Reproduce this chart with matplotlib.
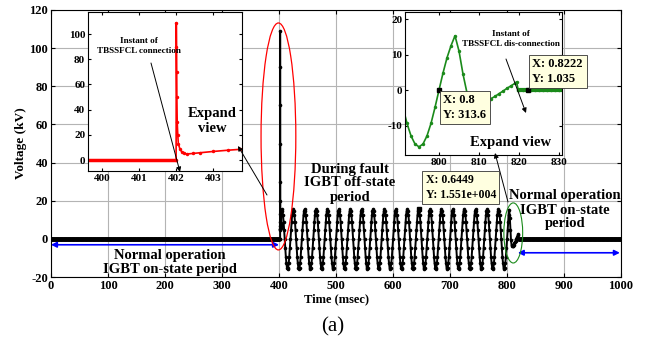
import matplotlib.pyplot as plt
import numpy as np
from matplotlib.patches import Ellipse, FancyArrowPatch

plt.rcParams['font.family'] = ['Liberation Serif', 'DejaVu Serif']
plt.rcParams['font.weight'] = 'bold'
plt.rcParams['axes.labelweight'] = 'bold'
plt.rcParams['axes.unicode_minus'] = False

# one 50 Hz cycle of the fault-period voltage, 1 ms samples (kV)
cycle_kv = [0, 4.8, 9.1, 12.5, 14.7, 15.5, 14.7, 12.5, 9.1, 4.8,
            0, -4.9, -9.4, -12.9, -15.2, -16.0, -15.2, -12.9, -9.4, -4.9]

# spike at the TBSSFCL connection instant
t_spike = [402.0, 402.005, 402.01, 402.015, 402.02, 402.03, 402.045, 402.06,
           402.1, 402.15, 402.22, 402.29, 402.45, 402.65, 403.0, 403.4, 403.73]
v_spike = [0, 109, 90, 70, 50, 30, 20, 13,
           9, 6.6, 5.3, 4.8, 5.2, 5.8, 6.8, 7.8, 8.5]

# transient at the dis-connection instant
t_end = [804, 805, 806, 807, 808, 809, 810, 811, 812, 813, 814, 815,
         816, 817, 818, 819, 819.4, 819.8]
v_end = [15.3, 11.0, 4.5, -0.8, -3.2, -4.0, -3.9, -3.5, -3.0, -2.4, -1.8, -1.0,
         -0.3, 0.5, 1.2, 1.9, 2.3, 0.0]

t_pre = np.arange(0, 402, 1.0)
v_pre = np.zeros(len(t_pre))
t_fault = np.arange(404, 804, 1.0)
v_fault = np.tile(cycle_kv, 21)[4:404]
t_post = np.arange(820, 1001, 1.0)
v_post = np.zeros(len(t_post))

t_all = np.concatenate([t_pre, t_spike, t_fault, t_end, t_post])
v_all = np.concatenate([v_pre, v_spike, v_fault, v_end, v_post])

# denser samples for the left zoom
t_zoom_pre = np.arange(399.6, 402.0, 0.02)
v_zoom_pre = np.zeros(len(t_zoom_pre))

W, H = 645, 341


def fx(x):
    return x / W


def fy(y):
    return 1 - y / H


def box(l, t, r, b):
    return [fx(l), fy(b), (r - l) / W, (b - t) / H]


fig = plt.figure(figsize=(6.45, 3.41), dpi=100)

ax = fig.add_axes(box(51, 10, 621, 277))
ax.plot(t_all, v_all, '-', color='k', lw=1.4, marker='o', ms=2.6, mew=0)
ax.plot(t_pre, v_pre, '-', color='k', lw=3.5, solid_capstyle='butt')
ax.plot(t_post, v_post, '-', color='k', lw=3.5, solid_capstyle='butt')
ax.set_xlim(0, 1000)
ax.set_ylim(-20, 120)
ax.set_xticks(np.arange(0, 1001, 100))
ax.set_yticks(np.arange(-20, 121, 20))
ax.grid(True, color='#b4b4b4', lw=0.8)
ax.tick_params(direction='in', top=True, right=True, labelsize=9, length=3, pad=2)
ax.set_xlabel('Time (msec)', fontsize=9, labelpad=1)
ax.set_ylabel('Voltage (kV)', fontsize=9.5, labelpad=2)
ax.add_patch(Ellipse((399, 53.7), 61, 119, fill=False, ec='red', lw=0.9, zorder=5))
ax.add_patch(Ellipse((811, 3.1), 33, 31.5, fill=False, ec='#1a8a1a', lw=0.8, zorder=5))
ax.annotate('', xy=(0, -3.1), xytext=(400, -3.1),
            arrowprops=dict(arrowstyle='<|-|>', color='blue', lw=1.2, mutation_scale=8,
                            shrinkA=0, shrinkB=0))
ax.annotate('', xy=(819, -7.3), xytext=(998, -7.3),
            arrowprops=dict(arrowstyle='<|-|>', color='blue', lw=1.2, mutation_scale=8,
                            shrinkA=0, shrinkB=0))
ax.plot(644.9, 15.51, 's', color='k', ms=3.5, zorder=6)

# left zoom: connection spike
ax1 = fig.add_axes(box(88, 12, 242, 171))
ax1.plot(t_zoom_pre, v_zoom_pre, '-', color='red', lw=2.5, marker='o', ms=2, mew=0)
ax1.plot(t_spike, v_spike, '-', color='red', lw=1.2, marker='o', ms=2.5, mew=0)
ax1.set_xlim(399.62, 403.78)
ax1.set_ylim(-8.7, 117.5)
ax1.set_xticks([400, 401, 402, 403])
ax1.set_yticks(np.arange(0, 101, 20))
ax1.tick_params(direction='in', top=True, right=True, labelsize=8, length=2.5, pad=2)

# right zoom: dis-connection transient
ax2 = fig.add_axes(box(405, 12, 562, 155))
ax2.plot(t_all, v_all, '-', color='#1a8a1a', lw=1.2, marker='o', ms=2.5, mew=0)
ax2.plot(t_post, v_post, '-', color='#1a8a1a', lw=3)
ax2.set_xlim(791.5, 830.75)
ax2.set_ylim(-18.3, 22)
ax2.set_xticks([800, 810, 820, 830])
ax2.set_yticks([-10, 0, 10, 20])
ax2.tick_params(direction='in', top=True, right=True, labelsize=8, length=2.5, pad=2)
ax2.plot(800, 0, 's', color='k', ms=3.5, zorder=6)
ax2.plot(822.2, 0, 's', color='k', ms=3.5, zorder=6)

# labels
fig.text(fx(170), fy(262), 'Normal operation\nIGBT on-state period', ha='center', va='center',
         fontsize=10.5, linespacing=1.1)
fig.text(fx(350), fy(183), 'During fault\nIGBT off-state\nperiod', ha='center', va='center',
         fontsize=10.5, linespacing=1.1)
fig.text(fx(565), fy(210), 'Normal operation\nIGBT on-state\nperiod', ha='center', va='center',
         fontsize=10.5, linespacing=1.1)
fig.text(fx(212), fy(121), 'Expand\nview', ha='center', va='center', fontsize=10.5, linespacing=1.1)
fig.text(fx(511), fy(142), 'Expand view', ha='center', va='center', fontsize=10.5)
fig.text(fx(139), fy(46), 'Instant of\nTBSSFCL connection', ha='center', va='center',
         fontsize=6.6, linespacing=1.2)
fig.text(fx(511), fy(39), 'Instant of\nTBSSFCL dis-connection', ha='center', va='center',
         fontsize=6.6, linespacing=1.2)
fig.text(fx(333), fy(327), '(a)', ha='center', va='center', fontsize=15, fontweight='normal')

# data tips
tip = dict(boxstyle='square,pad=0.3', fc='#ffffe0', ec='#333333', lw=0.6)
fig.text(fx(443.5), fy(107.5), 'X: 0.8\nY: 313.6', ha='left', va='center', fontsize=9,
         bbox=tip, linespacing=1.25)
fig.text(fx(532.5), fy(71.5), 'X: 0.8222\nY: 1.035', ha='left', va='center', fontsize=9,
         bbox=tip, linespacing=1.25)
fig.text(fx(425.5), fy(187.5), 'X: 0.6449\nY: 1.551e+004', ha='left', va='center', fontsize=8.5,
         bbox=tip, linespacing=1.25)

# pointer arrows
for (xa, ya), (xb, yb) in [((151, 63), (180, 172)), ((267, 195), (238, 146)),
                           ((506, 59), (526, 113)), ((508, 202), (495, 153))]:
    fig.add_artist(FancyArrowPatch((fx(xa), fy(ya)), (fx(xb), fy(yb)), transform=fig.transFigure,
                                   arrowstyle='-|>', mutation_scale=7, lw=0.7, color='k',
                                   shrinkA=0, shrinkB=0))

fig.savefig('out.png', dpi=100)
